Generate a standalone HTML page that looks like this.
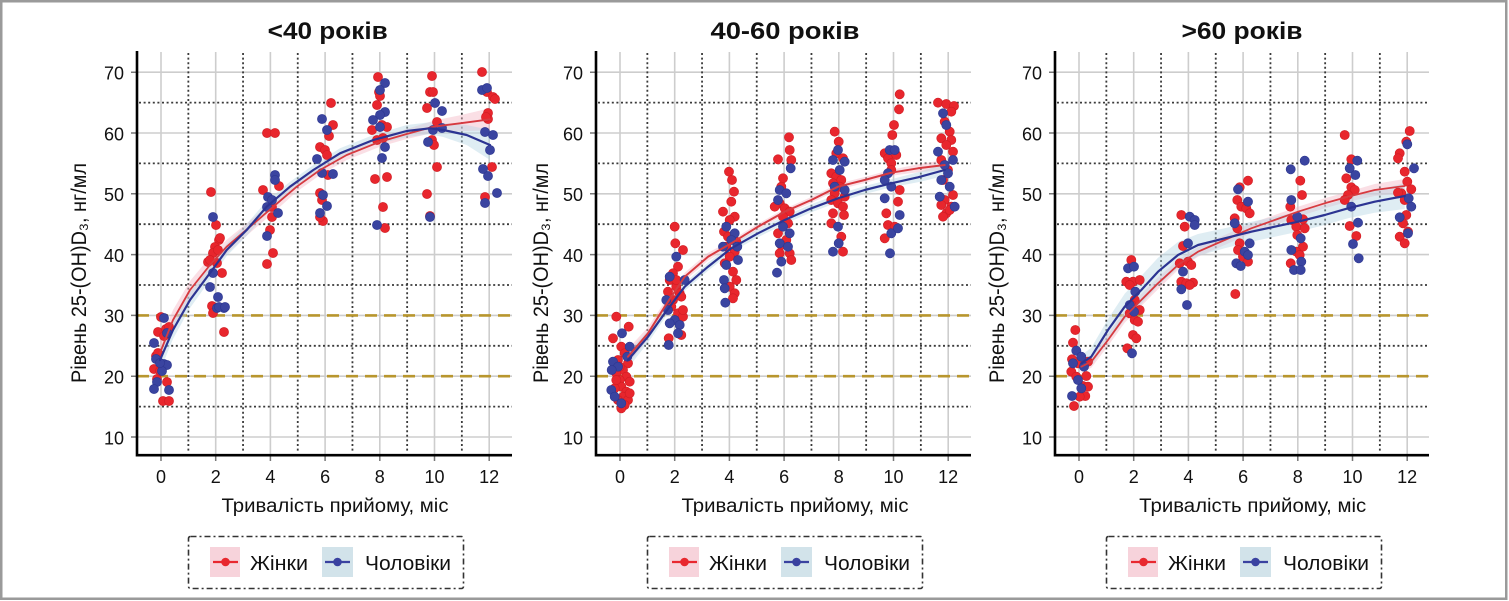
<!DOCTYPE html>
<html><head><meta charset="utf-8"><style>
html,body{margin:0;padding:0;background:#fff;}
svg{display:block;font-family:"Liberation Sans","DejaVu Sans",sans-serif;}
</style></head><body>
<svg width="1509" height="601" viewBox="0 0 1509 601" xmlns="http://www.w3.org/2000/svg">
<rect x="0" y="0" width="1509" height="601" fill="#fff"/>
<rect x="1.25" y="1.25" width="1505" height="597.5" fill="#fff" stroke="#9a9a9a" stroke-width="2.5"/>

<!-- ===== PANEL BASES ===== -->
<g id="p1">
<path d="M161 52V455M215.7 52V455M270.4 52V455M325.1 52V455M379.8 52V455M434.5 52V455M489.2 52V455" stroke="#cdcdcd" stroke-width="1.6" fill="none"/>
<path d="M137 437H512M137 376.2H512M137 315.4H512M137 254.6H512M137 193.8H512M137 133H512M137 72.2H512" stroke="#cdcdcd" stroke-width="1.6" fill="none"/>
<path d="M188.35 53V453M243.05 53V453M297.75 53V453M352.45 53V453M407.15 53V453M461.85 53V453" stroke="#3a3a3a" stroke-width="1.8" stroke-dasharray="2 2.6" fill="none"/>
<path d="M139 406.6H512M139 345.8H512M139 285H512M139 224.2H512M139 163.4H512M139 102.6H512" stroke="#3a3a3a" stroke-width="1.8" stroke-dasharray="2 2.6" fill="none"/>
<path d="M137 376.2H512M137 315.4H512" stroke="#b8962e" stroke-width="2.6" stroke-dasharray="12 7" fill="none"/>
<path d="M131 437H137M131 376.2H137M131 315.4H137M131 254.6H137M131 193.8H137M131 133H137M131 72.2H137M161 456V461M215.7 456V461M270.4 456V461M325.1 456V461M379.8 456V461M434.5 456V461M489.2 456V461" stroke="#777" stroke-width="1.5"/>
<path d="M137 51V456.5M135.8 455.2H512" stroke="#000" stroke-width="2.6" fill="none"/>
<g font-size="18" fill="#111" text-anchor="end">
<text x="124" y="79.5">70</text><text x="124" y="140.3">60</text><text x="124" y="201.1">50</text><text x="124" y="261.9">40</text><text x="124" y="322.7">30</text><text x="124" y="383.5">20</text><text x="124" y="444.3">10</text>
</g>
<g font-size="18" fill="#111" text-anchor="middle">
<text x="161" y="483">0</text><text x="215.7" y="483">2</text><text x="270.4" y="483">4</text><text x="325.1" y="483">6</text><text x="379.8" y="483">8</text><text x="434.5" y="483">10</text><text x="489.2" y="483">12</text>
</g>
<text x="327.7" y="39" font-size="24" font-weight="bold" text-anchor="middle" textLength="120" lengthAdjust="spacingAndGlyphs" fill="#111">&lt;40 років</text>
<text x="335" y="512" font-size="19" text-anchor="middle" textLength="227" lengthAdjust="spacingAndGlyphs" fill="#111">Тривалість прийому, міс</text>
<text transform="translate(86,273) rotate(-90)" font-size="21" text-anchor="middle" textLength="220" lengthAdjust="spacingAndGlyphs" fill="#111">Рівень 25-(OH)D₃, нг/мл</text>
<rect x="188.5" y="536.5" width="275" height="52" fill="#fff" stroke="#333" stroke-width="1.6" stroke-dasharray="6 3 2 3" rx="2"/>
<rect x="210" y="547" width="30" height="30" fill="#f7d3db"/>
<path d="M213 562H238" stroke="#e8282f" stroke-width="2.2"/><circle cx="225.5" cy="562" r="4.3" fill="#e8282f"/>
<text x="250" y="570" font-size="20" textLength="58" lengthAdjust="spacingAndGlyphs" fill="#111">Жінки</text>
<rect x="322" y="547" width="31" height="30" fill="#d2e3ea"/>
<path d="M325 562H350" stroke="#3a42a0" stroke-width="2.2"/><circle cx="337.5" cy="562" r="4.3" fill="#3a42a0"/>
<text x="365" y="570" font-size="20" textLength="86" lengthAdjust="spacingAndGlyphs" fill="#111">Чоловіки</text>
</g>

<g transform="translate(459,0)">
<path d="M161 52V455M215.7 52V455M270.4 52V455M325.1 52V455M379.8 52V455M434.5 52V455M489.2 52V455" stroke="#cdcdcd" stroke-width="1.6" fill="none"/>
<path d="M137 437H512M137 376.2H512M137 315.4H512M137 254.6H512M137 193.8H512M137 133H512M137 72.2H512" stroke="#cdcdcd" stroke-width="1.6" fill="none"/>
<path d="M188.35 53V453M243.05 53V453M297.75 53V453M352.45 53V453M407.15 53V453M461.85 53V453" stroke="#3a3a3a" stroke-width="1.8" stroke-dasharray="2 2.6" fill="none"/>
<path d="M139 406.6H512M139 345.8H512M139 285H512M139 224.2H512M139 163.4H512M139 102.6H512" stroke="#3a3a3a" stroke-width="1.8" stroke-dasharray="2 2.6" fill="none"/>
<path d="M137 376.2H512M137 315.4H512" stroke="#b8962e" stroke-width="2.6" stroke-dasharray="12 7" fill="none"/>
<path d="M131 437H137M131 376.2H137M131 315.4H137M131 254.6H137M131 193.8H137M131 133H137M131 72.2H137M161 456V461M215.7 456V461M270.4 456V461M325.1 456V461M379.8 456V461M434.5 456V461M489.2 456V461" stroke="#777" stroke-width="1.5"/>
<path d="M137 51V456.5M135.8 455.2H512" stroke="#000" stroke-width="2.6" fill="none"/>
<g font-size="18" fill="#111" text-anchor="end">
<text x="124" y="79.5">70</text><text x="124" y="140.3">60</text><text x="124" y="201.1">50</text><text x="124" y="261.9">40</text><text x="124" y="322.7">30</text><text x="124" y="383.5">20</text><text x="124" y="444.3">10</text>
</g>
<g font-size="18" fill="#111" text-anchor="middle">
<text x="161" y="483">0</text><text x="215.7" y="483">2</text><text x="270.4" y="483">4</text><text x="325.1" y="483">6</text><text x="379.8" y="483">8</text><text x="434.5" y="483">10</text><text x="489.2" y="483">12</text>
</g>
<text x="326" y="39" font-size="24" font-weight="bold" text-anchor="middle" textLength="149" lengthAdjust="spacingAndGlyphs" fill="#111">40-60 років</text>
<text x="336" y="512" font-size="19" text-anchor="middle" textLength="227" lengthAdjust="spacingAndGlyphs" fill="#111">Тривалість прийому, міс</text>
<text transform="translate(89,273) rotate(-90)" font-size="21" text-anchor="middle" textLength="220" lengthAdjust="spacingAndGlyphs" fill="#111">Рівень 25-(OH)D₃, нг/мл</text>
<rect x="188.5" y="536.5" width="275" height="52" fill="#fff" stroke="#333" stroke-width="1.6" stroke-dasharray="6 3 2 3" rx="2"/>
<rect x="210" y="547" width="30" height="30" fill="#f7d3db"/>
<path d="M213 562H238" stroke="#e8282f" stroke-width="2.2"/><circle cx="225.5" cy="562" r="4.3" fill="#e8282f"/>
<text x="250" y="570" font-size="20" textLength="58" lengthAdjust="spacingAndGlyphs" fill="#111">Жінки</text>
<rect x="322" y="547" width="31" height="30" fill="#d2e3ea"/>
<path d="M325 562H350" stroke="#3a42a0" stroke-width="2.2"/><circle cx="337.5" cy="562" r="4.3" fill="#3a42a0"/>
<text x="365" y="570" font-size="20" textLength="86" lengthAdjust="spacingAndGlyphs" fill="#111">Чоловіки</text>
</g>

<g transform="translate(918,0)">
<path d="M161 52V455M215.7 52V455M270.4 52V455M325.1 52V455M379.8 52V455M434.5 52V455M489.2 52V455" stroke="#cdcdcd" stroke-width="1.6" fill="none"/>
<path d="M137 437H511M137 376.2H511M137 315.4H511M137 254.6H511M137 193.8H511M137 133H511M137 72.2H511" stroke="#cdcdcd" stroke-width="1.6" fill="none"/>
<path d="M188.35 53V453M243.05 53V453M297.75 53V453M352.45 53V453M407.15 53V453M461.85 53V453" stroke="#3a3a3a" stroke-width="1.8" stroke-dasharray="2 2.6" fill="none"/>
<path d="M139 406.6H511M139 345.8H511M139 285H511M139 224.2H511M139 163.4H511M139 102.6H511" stroke="#3a3a3a" stroke-width="1.8" stroke-dasharray="2 2.6" fill="none"/>
<path d="M137 376.2H511M137 315.4H511" stroke="#b8962e" stroke-width="2.6" stroke-dasharray="12 7" fill="none"/>
<path d="M131 437H137M131 376.2H137M131 315.4H137M131 254.6H137M131 193.8H137M131 133H137M131 72.2H137M161 456V461M215.7 456V461M270.4 456V461M325.1 456V461M379.8 456V461M434.5 456V461M489.2 456V461" stroke="#777" stroke-width="1.5"/>
<path d="M137 51V456.5M135.8 455.2H511" stroke="#000" stroke-width="2.6" fill="none"/>
<g font-size="18" fill="#111" text-anchor="end">
<text x="124" y="79.5">70</text><text x="124" y="140.3">60</text><text x="124" y="201.1">50</text><text x="124" y="261.9">40</text><text x="124" y="322.7">30</text><text x="124" y="383.5">20</text><text x="124" y="444.3">10</text>
</g>
<g font-size="18" fill="#111" text-anchor="middle">
<text x="161" y="483">0</text><text x="215.7" y="483">2</text><text x="270.4" y="483">4</text><text x="325.1" y="483">6</text><text x="379.8" y="483">8</text><text x="434.5" y="483">10</text><text x="489.2" y="483">12</text>
</g>
<text x="324" y="39" font-size="24" font-weight="bold" text-anchor="middle" textLength="121" lengthAdjust="spacingAndGlyphs" fill="#111">&gt;60 років</text>
<text x="334.7" y="512" font-size="19" text-anchor="middle" textLength="227" lengthAdjust="spacingAndGlyphs" fill="#111">Тривалість прийому, міс</text>
<text transform="translate(86,273) rotate(-90)" font-size="21" text-anchor="middle" textLength="220" lengthAdjust="spacingAndGlyphs" fill="#111">Рівень 25-(OH)D₃, нг/мл</text>
<rect x="188.5" y="536.5" width="275" height="52" fill="#fff" stroke="#333" stroke-width="1.6" stroke-dasharray="6 3 2 3" rx="2"/>
<rect x="210" y="547" width="30" height="30" fill="#f7d3db"/>
<path d="M213 562H238" stroke="#e8282f" stroke-width="2.2"/><circle cx="225.5" cy="562" r="4.3" fill="#e8282f"/>
<text x="250" y="570" font-size="20" textLength="58" lengthAdjust="spacingAndGlyphs" fill="#111">Жінки</text>
<rect x="322" y="547" width="31" height="30" fill="#d2e3ea"/>
<path d="M325 562H350" stroke="#3a42a0" stroke-width="2.2"/><circle cx="337.5" cy="562" r="4.3" fill="#3a42a0"/>
<text x="365" y="570" font-size="20" textLength="86" lengthAdjust="spacingAndGlyphs" fill="#111">Чоловіки</text>
</g>

<!-- ===== RIBBONS ===== -->
<g fill-opacity="0.45">
<polygon fill="#f4b8c6" points="160,341 173,310 190,281 210,257 226.7,239.7 250,220.7 273.3,200.7 296.7,181.7 320,165 346.7,150 380,136.7 406.7,129 433.3,120.7 460,115.3 490,108.3 490,130.3 460,131.3 433.3,132.7 406.7,139 380,146.7 346.7,160 320,175 296.7,191.7 273.3,212.7 250,232.7 226.7,253.7 210,273 190,299 173,330 160,365"/>
<polygon fill="#b9d8e4" points="160,349 173,321 190,292 210,266 226.7,244 246.7,224 266.7,200.7 290,181.7 313.3,165 340,148.3 373.3,135 406.7,125 430,122.3 443.3,123 466.7,125 490,130 490,160 466.7,145 443.3,137 430,134.3 406.7,137 373.3,145 340,158.3 313.3,175 290,191.7 266.7,212.7 246.7,236 226.7,256 210,280 190,308 173,339 160,371"/>
<polygon fill="#f4b8c6" points="628,348.7 648,327.3 664.7,301.7 684.7,272.7 708,252.7 731.3,240.3 758,223.7 784.7,208.7 811.3,197 838,183.7 864.7,177 891.3,169.7 918,164.3 944.7,160 944.7,170 918,172.3 891.3,175.7 864.7,183 838,189.7 811.3,203 784.7,214.7 758,229.7 731.3,246.3 708,260.7 684.7,280.7 664.7,311.7 648,339.3 628,364.7"/>
<polygon fill="#b9d8e4" points="628,352 648,330.7 664.7,308.3 684.7,282.7 708,262.7 731.3,244.3 758,229.3 784.7,216 811.3,204.3 838,194.3 864.7,186 891.3,179.3 918,172.3 944.7,164 944.7,176 918,182.3 891.3,187.3 864.7,194 838,202.3 811.3,212.3 784.7,224 758,237.3 731.3,252.3 708,270.7 684.7,290.7 664.7,318.3 648,342.7 628,368"/>
<polygon fill="#f4b8c6" points="1081.3,360.7 1091.3,355.7 1108,334 1124.7,310.7 1141.3,294 1158,277.3 1178,260 1198,246.7 1224.7,235 1251.3,223.3 1274.7,215 1298,206.7 1324.7,198.3 1348,191.7 1374.7,184 1404.7,179 1404.7,193 1374.7,196 1348,201.7 1324.7,208.3 1298,216.7 1274.7,225 1251.3,233.3 1224.7,245 1198,256.7 1178,270 1158,289.3 1141.3,306 1124.7,322.7 1108,346 1091.3,367.7 1081.3,372.7"/>
<polygon fill="#b9d8e4" points="1081.3,355.3 1091.3,347.7 1108,319 1124.7,293.7 1141.3,276 1158,257.7 1178,242 1198,234 1224.7,228.3 1251.3,221.7 1274.7,216.7 1298,211.7 1324.7,205 1348,198.3 1374.7,190.7 1404.7,183 1404.7,209 1374.7,212.7 1348,218.3 1324.7,225 1298,231.7 1274.7,236.7 1251.3,241.7 1224.7,248.3 1198,256 1178,268 1158,285.7 1141.3,304 1124.7,319.7 1108,341 1091.3,365.7 1081.3,371.3"/>
</g>

<!-- ===== RED POINTS ===== -->
<g fill="#e8262d" stroke="#d01d24" stroke-width="0.6">
<circle cx="161" cy="317" r="4.6"/><circle cx="158" cy="332" r="4.6"/><circle cx="166" cy="329" r="4.6"/><circle cx="169" cy="327" r="4.6"/><circle cx="156" cy="356" r="4.6"/><circle cx="154" cy="369" r="4.6"/><circle cx="157" cy="379" r="4.6"/><circle cx="167" cy="382" r="4.6"/><circle cx="163" cy="401" r="4.6"/><circle cx="169" cy="401" r="4.6"/><circle cx="160" cy="371" r="4.6"/><circle cx="158" cy="353" r="4.6"/><circle cx="164" cy="336" r="4.6"/>
<circle cx="211" cy="192" r="4.6"/><circle cx="216" cy="225" r="4.6"/><circle cx="219" cy="240" r="4.6"/><circle cx="215" cy="247" r="4.6"/><circle cx="213" cy="253" r="4.6"/><circle cx="208" cy="262" r="4.6"/><circle cx="217" cy="263" r="4.6"/><circle cx="222" cy="273" r="4.6"/><circle cx="212" cy="306" r="4.6"/><circle cx="224" cy="332" r="4.6"/><circle cx="213" cy="313" r="4.6"/><circle cx="210" cy="260" r="4.6"/><circle cx="220" cy="238" r="4.6"/><circle cx="218" cy="250" r="4.6"/>
<circle cx="267" cy="133" r="4.6"/><circle cx="275" cy="133" r="4.6"/><circle cx="263" cy="190" r="4.6"/><circle cx="272" cy="207" r="4.6"/><circle cx="272" cy="217" r="4.6"/><circle cx="270" cy="230" r="4.6"/><circle cx="273" cy="253" r="4.6"/><circle cx="267" cy="264" r="4.6"/><circle cx="279" cy="186" r="4.6"/>
<circle cx="331" cy="103" r="4.6"/><circle cx="333" cy="125" r="4.6"/><circle cx="329" cy="136" r="4.6"/><circle cx="320" cy="147" r="4.6"/><circle cx="325" cy="150" r="4.6"/><circle cx="327" cy="155" r="4.6"/><circle cx="328" cy="175" r="4.6"/><circle cx="320" cy="193" r="4.6"/><circle cx="322" cy="200" r="4.6"/><circle cx="323" cy="221" r="4.6"/><circle cx="320" cy="217" r="4.6"/>
<circle cx="378" cy="77" r="4.6"/><circle cx="379" cy="92" r="4.6"/><circle cx="380" cy="96" r="4.6"/><circle cx="377" cy="105" r="4.6"/><circle cx="372" cy="130" r="4.6"/><circle cx="382" cy="125" r="4.6"/><circle cx="387" cy="127" r="4.6"/><circle cx="377" cy="140" r="4.6"/><circle cx="383" cy="138" r="4.6"/><circle cx="375" cy="179" r="4.6"/><circle cx="387" cy="177" r="4.6"/><circle cx="383" cy="207" r="4.6"/><circle cx="385" cy="228" r="4.6"/>
<circle cx="432" cy="76" r="4.6"/><circle cx="430" cy="92" r="4.6"/><circle cx="433" cy="92" r="4.6"/><circle cx="427" cy="108" r="4.6"/><circle cx="437" cy="122" r="4.6"/><circle cx="432" cy="140" r="4.6"/><circle cx="437" cy="167" r="4.6"/><circle cx="427" cy="194" r="4.6"/><circle cx="430" cy="216" r="4.6"/><circle cx="434" cy="145" r="4.6"/>
<circle cx="482" cy="72" r="4.6"/><circle cx="487" cy="92" r="4.6"/><circle cx="493" cy="97" r="4.6"/><circle cx="495" cy="99" r="4.6"/><circle cx="488" cy="113" r="4.6"/><circle cx="488" cy="119" r="4.6"/><circle cx="486" cy="117" r="4.6"/><circle cx="492" cy="167" r="4.6"/><circle cx="485" cy="197" r="4.6"/>

<circle cx="616.3" cy="316.7" r="4.6"/><circle cx="613" cy="338.3" r="4.6"/><circle cx="628.7" cy="326.7" r="4.6"/><circle cx="621.3" cy="346.7" r="4.6"/><circle cx="624.7" cy="353.3" r="4.6"/><circle cx="618" cy="360" r="4.6"/><circle cx="628" cy="363.3" r="4.6"/><circle cx="623" cy="370" r="4.6"/><circle cx="616.3" cy="373.3" r="4.6"/><circle cx="626.3" cy="376.7" r="4.6"/><circle cx="619.7" cy="380" r="4.6"/><circle cx="629.7" cy="381.7" r="4.6"/><circle cx="621.3" cy="386.7" r="4.6"/><circle cx="614.7" cy="388.3" r="4.6"/><circle cx="626.3" cy="391.7" r="4.6"/><circle cx="623" cy="396.7" r="4.6"/><circle cx="618" cy="400" r="4.6"/><circle cx="628" cy="400" r="4.6"/><circle cx="624.7" cy="405" r="4.6"/><circle cx="621.3" cy="408.3" r="4.6"/><circle cx="629.7" cy="393.3" r="4.6"/><circle cx="619.7" cy="366.7" r="4.6"/><circle cx="616.3" cy="380" r="4.6"/>
<circle cx="674.7" cy="226.7" r="4.6"/><circle cx="675.3" cy="243.3" r="4.6"/><circle cx="683" cy="250" r="4.6"/><circle cx="678" cy="266.7" r="4.6"/><circle cx="673" cy="273.3" r="4.6"/><circle cx="669.7" cy="280" r="4.6"/><circle cx="676.3" cy="286.7" r="4.6"/><circle cx="668" cy="291.7" r="4.6"/><circle cx="679.7" cy="293.3" r="4.6"/><circle cx="673" cy="300" r="4.6"/><circle cx="681.3" cy="296.7" r="4.6"/><circle cx="671.3" cy="306.7" r="4.6"/><circle cx="678" cy="313.3" r="4.6"/><circle cx="683" cy="316.7" r="4.6"/><circle cx="668.7" cy="338.3" r="4.6"/><circle cx="681.3" cy="335" r="4.6"/><circle cx="676.3" cy="280" r="4.6"/><circle cx="683" cy="310" r="4.6"/>
<circle cx="729" cy="171.7" r="4.6"/><circle cx="732" cy="180" r="4.6"/><circle cx="734" cy="191.7" r="4.6"/><circle cx="731.3" cy="201.7" r="4.6"/><circle cx="723" cy="211.7" r="4.6"/><circle cx="734.7" cy="216.7" r="4.6"/><circle cx="729.7" cy="220" r="4.6"/><circle cx="724" cy="231.7" r="4.6"/><circle cx="731.3" cy="238.3" r="4.6"/><circle cx="736.3" cy="241.7" r="4.6"/><circle cx="726.3" cy="246.7" r="4.6"/><circle cx="734.7" cy="251.7" r="4.6"/><circle cx="729.7" cy="256.7" r="4.6"/><circle cx="724.7" cy="263.3" r="4.6"/><circle cx="733" cy="271.7" r="4.6"/><circle cx="736.3" cy="280" r="4.6"/><circle cx="729.7" cy="286.7" r="4.6"/><circle cx="734.7" cy="293.3" r="4.6"/><circle cx="733" cy="298.3" r="4.6"/><circle cx="728" cy="236.7" r="4.6"/>
<circle cx="789" cy="137.3" r="4.6"/><circle cx="789.7" cy="150" r="4.6"/><circle cx="778" cy="159.3" r="4.6"/><circle cx="791.3" cy="160" r="4.6"/><circle cx="783" cy="178.3" r="4.6"/><circle cx="781.3" cy="186.7" r="4.6"/><circle cx="779.7" cy="203.3" r="4.6"/><circle cx="784.7" cy="208.3" r="4.6"/><circle cx="774.7" cy="206.7" r="4.6"/><circle cx="789.7" cy="211.7" r="4.6"/><circle cx="783" cy="216.7" r="4.6"/><circle cx="788" cy="223.3" r="4.6"/><circle cx="778" cy="233.3" r="4.6"/><circle cx="786.3" cy="240" r="4.6"/><circle cx="781.3" cy="245" r="4.6"/><circle cx="789.7" cy="253.3" r="4.6"/><circle cx="791.3" cy="260" r="4.6"/><circle cx="779.7" cy="253.3" r="4.6"/>
<circle cx="834.7" cy="131.7" r="4.6"/><circle cx="838.7" cy="141.7" r="4.6"/><circle cx="836.3" cy="153.3" r="4.6"/><circle cx="843" cy="158.3" r="4.6"/><circle cx="831.3" cy="173.3" r="4.6"/><circle cx="836.3" cy="176.7" r="4.6"/><circle cx="841.3" cy="180" r="4.6"/><circle cx="833" cy="183.3" r="4.6"/><circle cx="839.7" cy="186.7" r="4.6"/><circle cx="834.7" cy="193.3" r="4.6"/><circle cx="844.7" cy="196.7" r="4.6"/><circle cx="831.3" cy="200" r="4.6"/><circle cx="838" cy="203.3" r="4.6"/><circle cx="843" cy="206.7" r="4.6"/><circle cx="833" cy="213.3" r="4.6"/><circle cx="844" cy="215" r="4.6"/><circle cx="831.3" cy="223.3" r="4.6"/><circle cx="841.3" cy="236.7" r="4.6"/><circle cx="843" cy="251.7" r="4.6"/>
<circle cx="899.7" cy="94.3" r="4.6"/><circle cx="899" cy="109.3" r="4.6"/><circle cx="894" cy="125" r="4.6"/><circle cx="892.3" cy="135" r="4.6"/><circle cx="884.7" cy="153.3" r="4.6"/><circle cx="888" cy="158.3" r="4.6"/><circle cx="896.3" cy="155" r="4.6"/><circle cx="891.3" cy="163.3" r="4.6"/><circle cx="899.7" cy="190" r="4.6"/><circle cx="898" cy="201.7" r="4.6"/><circle cx="886.3" cy="213.3" r="4.6"/><circle cx="888" cy="225" r="4.6"/><circle cx="894.7" cy="226.7" r="4.6"/><circle cx="884.7" cy="238.3" r="4.6"/><circle cx="891.3" cy="170" r="4.6"/>
<circle cx="938" cy="102.7" r="4.6"/><circle cx="946.3" cy="104" r="4.6"/><circle cx="954" cy="106" r="4.6"/><circle cx="951.3" cy="111.7" r="4.6"/><circle cx="944.7" cy="121.7" r="4.6"/><circle cx="949.7" cy="131.7" r="4.6"/><circle cx="951.3" cy="140" r="4.6"/><circle cx="941.3" cy="138.3" r="4.6"/><circle cx="946.3" cy="145" r="4.6"/><circle cx="953" cy="151.7" r="4.6"/><circle cx="941.3" cy="160" r="4.6"/><circle cx="948" cy="170" r="4.6"/><circle cx="943" cy="180" r="4.6"/><circle cx="953" cy="195" r="4.6"/><circle cx="944.7" cy="200" r="4.6"/><circle cx="941.3" cy="205" r="4.6"/><circle cx="951.3" cy="206.7" r="4.6"/><circle cx="946.3" cy="213.3" r="4.6"/><circle cx="943" cy="216.7" r="4.6"/><circle cx="949.7" cy="210" r="4.6"/>

<circle cx="1075.3" cy="330" r="4.6"/><circle cx="1073" cy="342.7" r="4.6"/><circle cx="1072" cy="359.3" r="4.6"/><circle cx="1078" cy="363.3" r="4.6"/><circle cx="1088" cy="361.7" r="4.6"/><circle cx="1071.3" cy="371.7" r="4.6"/><circle cx="1076.3" cy="376.7" r="4.6"/><circle cx="1086.3" cy="376" r="4.6"/><circle cx="1083" cy="386" r="4.6"/><circle cx="1088" cy="386.7" r="4.6"/><circle cx="1085.3" cy="396" r="4.6"/><circle cx="1079.7" cy="396.7" r="4.6"/><circle cx="1074" cy="406" r="4.6"/>
<circle cx="1131.3" cy="260" r="4.6"/><circle cx="1126.3" cy="281.7" r="4.6"/><circle cx="1133" cy="281.7" r="4.6"/><circle cx="1139.7" cy="280" r="4.6"/><circle cx="1129.7" cy="285" r="4.6"/><circle cx="1134.7" cy="300" r="4.6"/><circle cx="1131.3" cy="305" r="4.6"/><circle cx="1139.7" cy="310" r="4.6"/><circle cx="1129.7" cy="313.3" r="4.6"/><circle cx="1134.7" cy="320" r="4.6"/><circle cx="1138" cy="321.7" r="4.6"/><circle cx="1133" cy="335" r="4.6"/><circle cx="1136.3" cy="338.3" r="4.6"/><circle cx="1127.3" cy="348.3" r="4.6"/>
<circle cx="1181.3" cy="215" r="4.6"/><circle cx="1184.7" cy="226.7" r="4.6"/><circle cx="1183" cy="246" r="4.6"/><circle cx="1179.7" cy="263.3" r="4.6"/><circle cx="1188" cy="261.7" r="4.6"/><circle cx="1191.3" cy="265" r="4.6"/><circle cx="1181.3" cy="281.7" r="4.6"/><circle cx="1186.3" cy="283.3" r="4.6"/><circle cx="1193" cy="282.7" r="4.6"/><circle cx="1189.7" cy="285" r="4.6"/>
<circle cx="1248" cy="180.7" r="4.6"/><circle cx="1239.7" cy="187.3" r="4.6"/><circle cx="1237.3" cy="200" r="4.6"/><circle cx="1241.3" cy="206.7" r="4.6"/><circle cx="1246.3" cy="208.3" r="4.6"/><circle cx="1249.7" cy="213.3" r="4.6"/><circle cx="1234.7" cy="218.3" r="4.6"/><circle cx="1237.3" cy="228.3" r="4.6"/><circle cx="1239.7" cy="243.3" r="4.6"/><circle cx="1238" cy="250" r="4.6"/><circle cx="1243" cy="256.7" r="4.6"/><circle cx="1248" cy="261.7" r="4.6"/><circle cx="1235.3" cy="294" r="4.6"/>
<circle cx="1300.3" cy="180.7" r="4.6"/><circle cx="1302" cy="195" r="4.6"/><circle cx="1290.3" cy="206.7" r="4.6"/><circle cx="1291.3" cy="220" r="4.6"/><circle cx="1303" cy="219.3" r="4.6"/><circle cx="1296.3" cy="226.7" r="4.6"/><circle cx="1304.7" cy="228.3" r="4.6"/><circle cx="1297.3" cy="235" r="4.6"/><circle cx="1303" cy="246.7" r="4.6"/><circle cx="1296.3" cy="251.7" r="4.6"/><circle cx="1299.7" cy="255" r="4.6"/><circle cx="1290.7" cy="263.3" r="4.6"/>
<circle cx="1344.7" cy="135" r="4.6"/><circle cx="1351.3" cy="159.3" r="4.6"/><circle cx="1346.3" cy="178.3" r="4.6"/><circle cx="1351.3" cy="187.3" r="4.6"/><circle cx="1354.7" cy="190" r="4.6"/><circle cx="1348" cy="195" r="4.6"/><circle cx="1344.7" cy="200" r="4.6"/><circle cx="1349.7" cy="226" r="4.6"/><circle cx="1356.3" cy="236" r="4.6"/>
<circle cx="1409.7" cy="131" r="4.6"/><circle cx="1406.3" cy="141.7" r="4.6"/><circle cx="1399.7" cy="153.3" r="4.6"/><circle cx="1398" cy="158.3" r="4.6"/><circle cx="1404.7" cy="171.7" r="4.6"/><circle cx="1407.3" cy="181.7" r="4.6"/><circle cx="1411.3" cy="189.3" r="4.6"/><circle cx="1401.3" cy="193.3" r="4.6"/><circle cx="1404.7" cy="200" r="4.6"/><circle cx="1406.3" cy="215" r="4.6"/><circle cx="1403" cy="223.3" r="4.6"/><circle cx="1399.7" cy="236.7" r="4.6"/><circle cx="1404.7" cy="243.3" r="4.6"/><circle cx="1408" cy="231.7" r="4.6"/><circle cx="1398" cy="192.7" r="4.6"/>
</g>

<!-- ===== BLUE POINTS ===== -->
<g fill="#3a44a0" stroke="#2e3790" stroke-width="0.6">
<circle cx="154" cy="343" r="4.6"/><circle cx="156" cy="359" r="4.6"/><circle cx="164" cy="364" r="4.6"/><circle cx="167" cy="365" r="4.6"/><circle cx="162" cy="371" r="4.6"/><circle cx="157" cy="382" r="4.6"/><circle cx="154" cy="389" r="4.6"/><circle cx="169" cy="390" r="4.6"/><circle cx="164" cy="318" r="4.6"/><circle cx="167" cy="333" r="4.6"/><circle cx="160" cy="363" r="4.6"/>
<circle cx="213" cy="217" r="4.6"/><circle cx="213" cy="273" r="4.6"/><circle cx="210" cy="287" r="4.6"/><circle cx="218" cy="297" r="4.6"/><circle cx="217" cy="308" r="4.6"/><circle cx="224" cy="308" r="4.6"/><circle cx="219" cy="307" r="4.6"/><circle cx="225" cy="307" r="4.6"/>
<circle cx="275" cy="175" r="4.6"/><circle cx="275" cy="180" r="4.6"/><circle cx="268" cy="197" r="4.6"/><circle cx="267" cy="207" r="4.6"/><circle cx="278" cy="213" r="4.6"/><circle cx="267" cy="236" r="4.6"/><circle cx="272" cy="200" r="4.6"/>
<circle cx="322" cy="119" r="4.6"/><circle cx="327" cy="130" r="4.6"/><circle cx="317" cy="159" r="4.6"/><circle cx="322" cy="173" r="4.6"/><circle cx="333" cy="174" r="4.6"/><circle cx="323" cy="195" r="4.6"/><circle cx="327" cy="206" r="4.6"/><circle cx="320" cy="213" r="4.6"/>
<circle cx="385" cy="83" r="4.6"/><circle cx="380" cy="90" r="4.6"/><circle cx="385" cy="112" r="4.6"/><circle cx="380" cy="115" r="4.6"/><circle cx="373" cy="120" r="4.6"/><circle cx="380" cy="127" r="4.6"/><circle cx="385" cy="147" r="4.6"/><circle cx="382" cy="158" r="4.6"/><circle cx="377" cy="225" r="4.6"/>
<circle cx="435" cy="103" r="4.6"/><circle cx="442" cy="111" r="4.6"/><circle cx="433" cy="130" r="4.6"/><circle cx="428" cy="142" r="4.6"/><circle cx="430" cy="217" r="4.6"/><circle cx="442" cy="128" r="4.6"/>
<circle cx="482" cy="90" r="4.6"/><circle cx="487" cy="88" r="4.6"/><circle cx="485" cy="132" r="4.6"/><circle cx="493" cy="135" r="4.6"/><circle cx="490" cy="150" r="4.6"/><circle cx="483" cy="169" r="4.6"/><circle cx="488" cy="176" r="4.6"/><circle cx="497" cy="193" r="4.6"/><circle cx="485" cy="203" r="4.6"/>

<circle cx="622" cy="333.3" r="4.6"/><circle cx="613" cy="361.7" r="4.6"/><circle cx="618" cy="366.7" r="4.6"/><circle cx="611.3" cy="390" r="4.6"/><circle cx="614.7" cy="396.7" r="4.6"/><circle cx="621.3" cy="403.3" r="4.6"/><circle cx="627.3" cy="356.7" r="4.6"/><circle cx="629.7" cy="346.7" r="4.6"/><circle cx="611.7" cy="370" r="4.6"/>
<circle cx="676.3" cy="256.7" r="4.6"/><circle cx="669.7" cy="276.7" r="4.6"/><circle cx="684.7" cy="280" r="4.6"/><circle cx="668" cy="310" r="4.6"/><circle cx="674.7" cy="320" r="4.6"/><circle cx="669.7" cy="323.3" r="4.6"/><circle cx="679.7" cy="325" r="4.6"/><circle cx="678" cy="333.3" r="4.6"/><circle cx="668.7" cy="345" r="4.6"/><circle cx="666.3" cy="300" r="4.6"/>
<circle cx="726.3" cy="226.7" r="4.6"/><circle cx="734.7" cy="233.3" r="4.6"/><circle cx="731.3" cy="240" r="4.6"/><circle cx="723" cy="246.7" r="4.6"/><circle cx="738" cy="260" r="4.6"/><circle cx="726.3" cy="265" r="4.6"/><circle cx="724" cy="280" r="4.6"/><circle cx="724.7" cy="288.3" r="4.6"/><circle cx="725.3" cy="302.7" r="4.6"/><circle cx="737.3" cy="246.7" r="4.6"/>
<circle cx="790.7" cy="168.3" r="4.6"/><circle cx="779.7" cy="190" r="4.6"/><circle cx="786.3" cy="193.3" r="4.6"/><circle cx="778" cy="200" r="4.6"/><circle cx="783" cy="226.7" r="4.6"/><circle cx="789.7" cy="233.3" r="4.6"/><circle cx="779.7" cy="243.3" r="4.6"/><circle cx="788" cy="246.7" r="4.6"/><circle cx="781.3" cy="261.7" r="4.6"/><circle cx="777" cy="272.7" r="4.6"/>
<circle cx="838" cy="150" r="4.6"/><circle cx="844.7" cy="161.7" r="4.6"/><circle cx="833" cy="160" r="4.6"/><circle cx="839.7" cy="170" r="4.6"/><circle cx="844.7" cy="190" r="4.6"/><circle cx="834.7" cy="186.7" r="4.6"/><circle cx="838" cy="226.7" r="4.6"/><circle cx="833" cy="251.7" r="4.6"/><circle cx="838.7" cy="243.3" r="4.6"/>
<circle cx="889.7" cy="150" r="4.6"/><circle cx="894.7" cy="150" r="4.6"/><circle cx="888" cy="173.3" r="4.6"/><circle cx="884.7" cy="180" r="4.6"/><circle cx="891.3" cy="186.7" r="4.6"/><circle cx="884.7" cy="198.3" r="4.6"/><circle cx="899.7" cy="215" r="4.6"/><circle cx="891.3" cy="233.3" r="4.6"/><circle cx="898" cy="228.3" r="4.6"/><circle cx="890" cy="253.3" r="4.6"/>
<circle cx="943" cy="113.3" r="4.6"/><circle cx="946.3" cy="125" r="4.6"/><circle cx="938" cy="151.7" r="4.6"/><circle cx="953" cy="160" r="4.6"/><circle cx="944.7" cy="165" r="4.6"/><circle cx="941.3" cy="180" r="4.6"/><circle cx="949.7" cy="186.7" r="4.6"/><circle cx="939.7" cy="196.7" r="4.6"/><circle cx="954.7" cy="206.7" r="4.6"/><circle cx="948" cy="173.3" r="4.6"/>

<circle cx="1076.3" cy="350.7" r="4.6"/><circle cx="1081.3" cy="356.7" r="4.6"/><circle cx="1073" cy="363.3" r="4.6"/><circle cx="1084" cy="366.7" r="4.6"/><circle cx="1078" cy="380" r="4.6"/><circle cx="1081.3" cy="388.3" r="4.6"/><circle cx="1072" cy="396" r="4.6"/>
<circle cx="1128" cy="268.3" r="4.6"/><circle cx="1134" cy="266.7" r="4.6"/><circle cx="1135.3" cy="291.7" r="4.6"/><circle cx="1129.7" cy="305" r="4.6"/><circle cx="1134" cy="311.7" r="4.6"/><circle cx="1132" cy="353.3" r="4.6"/>
<circle cx="1189.7" cy="216.7" r="4.6"/><circle cx="1194.7" cy="220" r="4.6"/><circle cx="1194.7" cy="225" r="4.6"/><circle cx="1188" cy="243.3" r="4.6"/><circle cx="1183" cy="271.7" r="4.6"/><circle cx="1181.3" cy="289.3" r="4.6"/><circle cx="1187" cy="305" r="4.6"/>
<circle cx="1238" cy="189.3" r="4.6"/><circle cx="1248" cy="201.7" r="4.6"/><circle cx="1234.7" cy="223.3" r="4.6"/><circle cx="1249.7" cy="243.3" r="4.6"/><circle cx="1244.7" cy="251.7" r="4.6"/><circle cx="1248" cy="255" r="4.6"/><circle cx="1236.3" cy="263.3" r="4.6"/><circle cx="1240.7" cy="266" r="4.6"/>
<circle cx="1290.7" cy="169.3" r="4.6"/><circle cx="1304.7" cy="160.7" r="4.6"/><circle cx="1291.3" cy="200" r="4.6"/><circle cx="1297.3" cy="216.7" r="4.6"/><circle cx="1300.7" cy="238.3" r="4.6"/><circle cx="1291.3" cy="250" r="4.6"/><circle cx="1301.3" cy="261.7" r="4.6"/><circle cx="1294" cy="270" r="4.6"/><circle cx="1300.7" cy="270" r="4.6"/>
<circle cx="1357.3" cy="160.7" r="4.6"/><circle cx="1349.7" cy="168.3" r="4.6"/><circle cx="1355.3" cy="175" r="4.6"/><circle cx="1351.3" cy="206.7" r="4.6"/><circle cx="1358" cy="222.7" r="4.6"/><circle cx="1353" cy="244" r="4.6"/><circle cx="1358.7" cy="258.3" r="4.6"/>
<circle cx="1407.3" cy="144.3" r="4.6"/><circle cx="1414" cy="168.3" r="4.6"/><circle cx="1408.7" cy="198.3" r="4.6"/><circle cx="1411.3" cy="206.7" r="4.6"/><circle cx="1399.7" cy="217.3" r="4.6"/><circle cx="1408" cy="233.3" r="4.6"/>
</g>

<!-- ===== SMOOTH LINES ===== -->
<g fill="none" stroke-linejoin="round" stroke-linecap="round">
<polyline stroke="#d63a40" stroke-width="1.8" points="160,353 173,320 190,290 210,265 226.7,246.7 250,226.7 273.3,206.7 296.7,186.7 320,170 346.7,155 380,141.7 406.7,134 433.3,126.7 460,123.3 490,119.3"/>
<polyline stroke="#2c3492" stroke-width="2.2" points="160,360 173,330 190,300 210,273 226.7,250 246.7,230 266.7,206.7 290,186.7 313.3,170 340,153.3 373.3,140 406.7,131 430,128.3 443.3,130 466.7,135 490,145"/>
<polyline stroke="#d63a40" stroke-width="2" points="628,356.7 648,333.3 664.7,306.7 684.7,276.7 708,256.7 731.3,243.3 758,226.7 784.7,211.7 811.3,200 838,186.7 864.7,180 891.3,172.7 918,168.3 944.7,165"/>
<polyline stroke="#2c3492" stroke-width="2.2" points="628,360 648,336.7 664.7,313.3 684.7,286.7 708,266.7 731.3,248.3 758,233.3 784.7,220 811.3,208.3 838,198.3 864.7,190 891.3,183.3 918,177.3 944.7,170"/>
<polyline stroke="#d63a40" stroke-width="1.8" points="1081.3,366.7 1091.3,361.7 1108,340 1124.7,316.7 1141.3,300 1158,283.3 1178,265 1198,251.7 1224.7,240 1251.3,228.3 1274.7,220 1298,211.7 1324.7,203.3 1348,196.7 1374.7,190 1404.7,186"/>
<polyline stroke="#2c3492" stroke-width="2.2" points="1081.3,363.3 1091.3,356.7 1108,330 1124.7,306.7 1141.3,290 1158,271.7 1178,255 1198,245 1224.7,238.3 1251.3,231.7 1274.7,226.7 1298,221.7 1324.7,215 1348,208.3 1374.7,201.7 1404.7,196"/>
</g>
</svg>
</body></html>
